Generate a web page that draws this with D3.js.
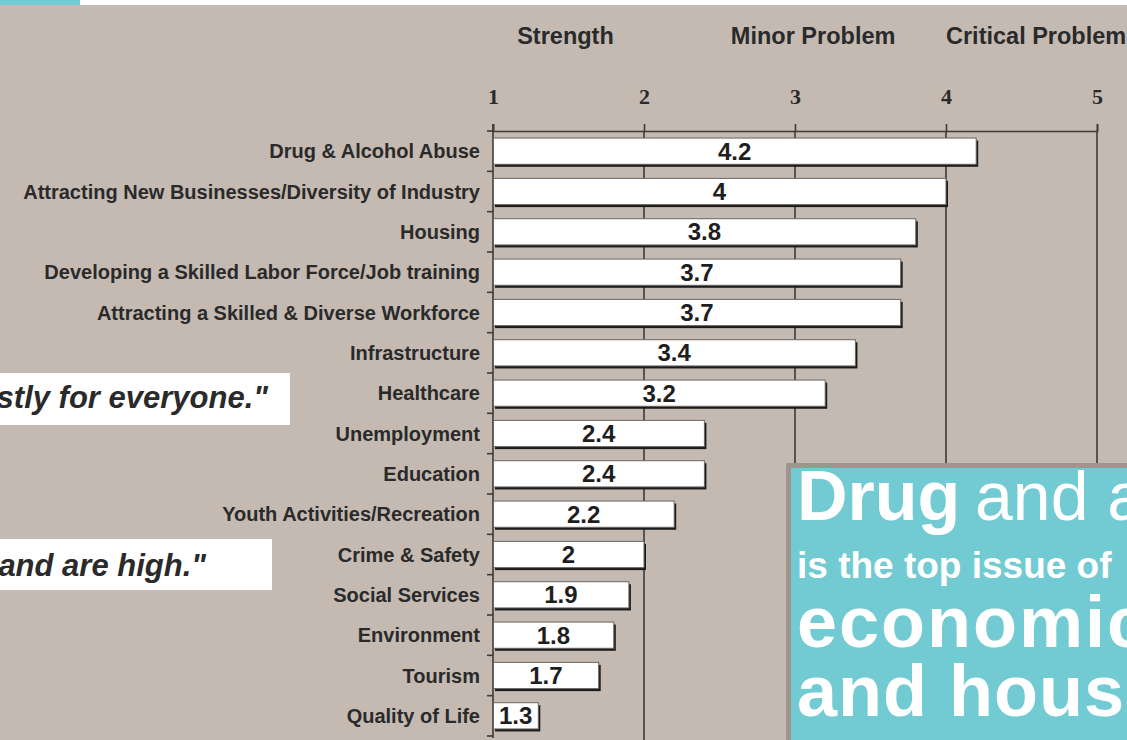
<!DOCTYPE html>
<html><head><meta charset="utf-8">
<script src="https://cdn.jsdelivr.net/npm/d3@7"></script>
<style>
html,body{margin:0;padding:0;background:#c4bab2;overflow:hidden}
svg{display:block}
</style></head>
<body>
<script>
const categories = ["Drug & Alcohol Abuse","Attracting New Businesses/Diversity of Industry","Housing","Developing a Skilled Labor Force/Job training","Attracting a Skilled & Diverse Workforce","Infrastructure","Healthcare","Unemployment","Education","Youth Activities/Recreation","Crime & Safety","Social Services","Environment","Tourism","Quality of Life"];
const values = [4.2,4,3.8,3.7,3.7,3.4,3.2,2.4,2.4,2.2,2,1.9,1.8,1.7,1.3];
const tickValues = [1,2,3,4,5];
const headerLabels = ["Strength","Minor Problem","Critical Problem"];
const quotes = ["stly for everyone.\"","and are high.\""];
const calloutLines = ["Drug","and a","is the top issue of","economic","and hous"];

const W=1127,H=740;
const svg=d3.select("body").append("svg").attr("width",W).attr("height",H);
svg.append("rect").attr("width",W).attr("height",H).attr("fill","#c4bab2");
// top strip
svg.append("rect").attr("x",0).attr("y",0).attr("width",W).attr("height",5).attr("fill","#ffffff");
svg.append("rect").attr("x",0).attr("y",0).attr("width",80).attr("height",5).attr("fill","#72cbd3");

const x=d3.scaleLinear().domain([1,5]).range([493,1097]);
const y=d3.scaleBand().domain(categories).range([131,736]).paddingInner(0.35).paddingOuter(0.175);
const step=y.step();
const lineCol="#3e3a38";

// headers
const headerPos=[{v:1.48,a:"middle"},{v:3.12,a:"middle"},{v:4.0,a:"start"}];
svg.selectAll("text.hdr").data(headerLabels).join("text").attr("class","hdr")
  .attr("x",(d,i)=>x(headerPos[i].v)).attr("y",44).attr("text-anchor",(d,i)=>headerPos[i].a)
  .attr("font-family","Liberation Sans, Arial, sans-serif").attr("font-weight","bold").attr("font-size",23.5)
  .attr("fill","#2a2a2a").text(d=>d);

// x axis
const xAxis=d3.axisTop(x).tickValues(tickValues).tickSize(7).tickPadding(20).tickFormat(d3.format("d"));
const gx=svg.append("g").attr("transform","translate(0,131)").call(xAxis);
gx.select(".domain").attr("stroke",lineCol).attr("stroke-width",1.6);
gx.selectAll(".tick line").attr("stroke",lineCol).attr("stroke-width",1.6);
gx.selectAll(".tick text").attr("font-family","Liberation Serif, Times New Roman, serif").attr("font-weight","bold")
  .attr("font-size",22).attr("fill","#2a2a2a");

// grid lines
svg.selectAll("line.grid").data(tickValues.slice(1)).join("line").attr("class","grid")
  .attr("x1",d=>x(d)).attr("x2",d=>x(d)).attr("y1",131).attr("y2",740)
  .attr("stroke",lineCol).attr("stroke-width",1.6);

// left axis
svg.append("line").attr("x1",x(1)).attr("x2",x(1)).attr("y1",124).attr("y2",738).attr("stroke",lineCol).attr("stroke-width",1.6);
const bounds=d3.range(categories.length+1).map(i=>131+i*step);
svg.selectAll("line.ytick").data(bounds).join("line").attr("class","ytick")
  .attr("x1",x(1)-6).attr("x2",x(1)).attr("y1",d=>d).attr("y2",d=>d).attr("stroke",lineCol).attr("stroke-width",1.6);

// category labels
svg.selectAll("text.cat").data(categories).join("text").attr("class","cat")
  .attr("x",480).attr("y",d=>y(d)+y.bandwidth()/2).attr("dy","0.35em").attr("text-anchor","end")
  .attr("font-family","Liberation Sans, Arial, sans-serif").attr("font-weight","bold").attr("font-size",20)
  .attr("fill","#2a2a2a").text(d=>d);

// bars
const data=categories.map((c,i)=>({c,v:values[i]}));
svg.selectAll("rect.shadow").data(data).join("rect").attr("class","shadow")
  .attr("x",x(1)+2).attr("y",d=>y(d.c)+2.5).attr("width",d=>x(d.v)-x(1)).attr("height",y.bandwidth())
  .attr("fill","#1a1a1a");
svg.selectAll("rect.bar").data(data).join("rect").attr("class","bar")
  .attr("x",x(1)+0.5).attr("y",d=>y(d.c)).attr("width",d=>x(d.v)-x(1)-0.5).attr("height",y.bandwidth())
  .attr("fill","#ffffff").attr("stroke","#6a6664").attr("stroke-width",1);
svg.selectAll("text.val").data(data).join("text").attr("class","val")
  .attr("x",d=>(x(1)+x(d.v))/2).attr("y",d=>y(d.c)+y.bandwidth()/2).attr("dy","0.36em").attr("text-anchor","middle")
  .attr("font-family","Liberation Sans, Arial, sans-serif").attr("font-weight","bold").attr("font-size",24)
  .attr("fill","#1e1e1e").text(d=>d3.format("")(d.v));

// quote boxes
const qBoxes=[{y:373,h:52,w:290,ty:408,tx:268},{y:539,h:51,w:272,ty:576,tx:206}];
qBoxes.forEach((b,i)=>{
  svg.append("rect").attr("x",0).attr("y",b.y).attr("width",b.w).attr("height",b.h).attr("fill","#ffffff");
  svg.append("text").attr("x",b.tx).attr("y",b.ty).attr("text-anchor","end")
    .attr("font-family","Liberation Sans, Arial, sans-serif").attr("font-weight","bold").attr("font-style","italic")
    .attr("font-size",31).attr("fill","#2a2a2a").text(quotes[i]);
});

// callout box
svg.append("rect").attr("x",786).attr("y",463).attr("width",W-786+10).attr("height",H-463+10).attr("fill","#9e968d");
svg.append("rect").attr("x",791).attr("y",468).attr("width",W-791+10).attr("height",H-468+10).attr("fill","#72cbd3");
const co=svg.append("g").attr("font-family","Liberation Sans, Arial, sans-serif").attr("fill","#ffffff");
co.append("text").attr("x",797).attr("y",520).attr("font-weight","900").attr("font-size",70).text(calloutLines[0]);
co.append("text").attr("x",975).attr("y",520).attr("font-weight","normal").attr("font-size",68).text(calloutLines[1]);
co.append("text").attr("x",797).attr("y",578).attr("font-weight","bold").attr("font-size",37).text(calloutLines[2]);
co.append("text").attr("x",797).attr("y",647).attr("font-weight","900").attr("font-size",72).attr("letter-spacing",2).text(calloutLines[3]);
co.append("text").attr("x",797).attr("y",716).attr("font-weight","900").attr("font-size",72).attr("letter-spacing",1).text(calloutLines[4]);
</script>
</body></html>
